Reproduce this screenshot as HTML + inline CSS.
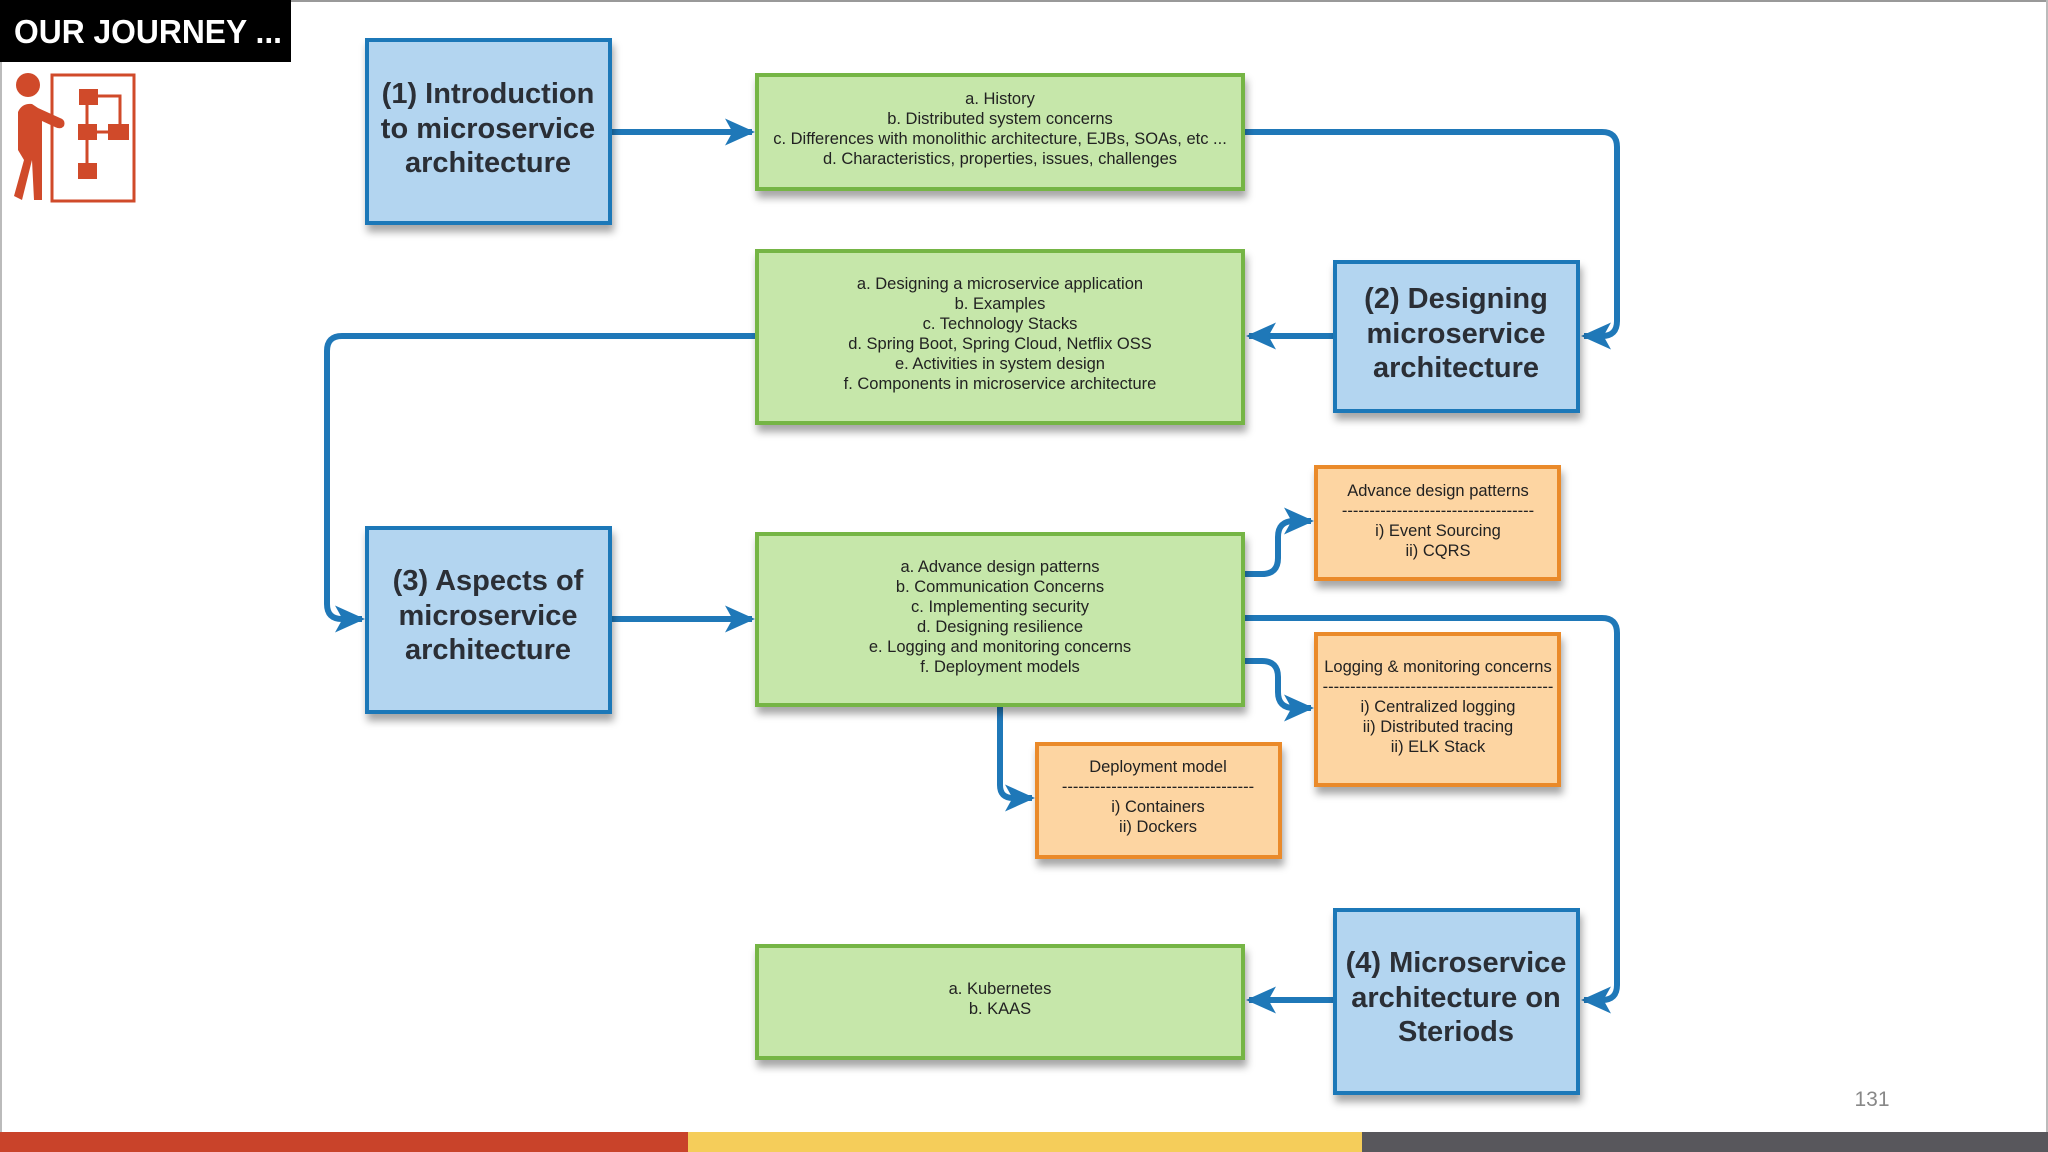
<!DOCTYPE html>
<html><head><meta charset="utf-8"><style>
html,body{margin:0;padding:0;background:#fff;}
svg{display:block;}
.b{font-family:"Liberation Sans",sans-serif;font-weight:bold;font-size:29px;fill:#2b2f36;text-anchor:middle;}
.t{font-family:"Liberation Sans",sans-serif;font-size:16.5px;fill:#222;text-anchor:middle;}
</style></head><body>
<svg width="2048" height="1152" viewBox="0 0 2048 1152" xmlns="http://www.w3.org/2000/svg">
<defs>
<filter id="sh" x="-10%" y="-10%" width="130%" height="140%"><feDropShadow dx="2" dy="7" stdDeviation="4" flood-color="#000" flood-opacity="0.35"/></filter>
<marker id="ar" viewBox="0 0 10 10" refX="9" refY="5" markerWidth="5" markerHeight="5" orient="auto" markerUnits="strokeWidth"><path d="M0,0.5 L10,5 L0,9.5 L2.5,5 z" fill="#1f78b8"/></marker>
</defs>
<rect x="0" y="0" width="2048" height="1152" fill="#fff"/>
<line x1="291" y1="1" x2="2048" y2="1" stroke="#999" stroke-width="2"/>
<line x1="1" y1="61" x2="1" y2="1132" stroke="#bbb" stroke-width="2"/>
<line x1="2047" y1="0" x2="2047" y2="1132" stroke="#bbb" stroke-width="2"/>
<rect x="0" y="0" width="291" height="62" fill="#000"/>
<text x="14" y="43" font-family="'Liberation Sans',sans-serif" font-weight="bold" font-size="33" fill="#fff" textLength="268" lengthAdjust="spacingAndGlyphs">OUR JOURNEY ...</text>
<!-- icon -->
<g fill="#d04a2a">
<rect x="52" y="75" width="82" height="126" fill="none" stroke="#d04a2a" stroke-width="3"/>
<circle cx="28" cy="85" r="12"/>
<path d="M18,112 Q22,103 32,104 L38,108 L60,118 Q66,120 64,126 Q61,130 55,127 L42,121 L42,200 L34,200 L32,160 L22,200 L14,196 L24,160 L18,150 Z"/>
<rect x="79" y="89" width="19" height="16"/><rect x="78" y="124" width="19" height="16"/><rect x="108" y="124" width="21" height="16"/><rect x="78" y="163" width="19" height="16"/>
<path d="M87,105 V163 M97,96 H120 V124 M97,132 H108" stroke="#d04a2a" stroke-width="3" fill="none"/>
</g>
<!-- connectors -->
<g stroke="#1f78b8" stroke-width="6" fill="none" stroke-linejoin="round">
<path d="M610,132 H752" marker-end="url(#ar)"/>
<path d="M1243,132 H1602 Q1617,132 1617,147 V321 Q1617,336 1602,336 H1584" marker-end="url(#ar)"/>
<path d="M1335,336 H1249" marker-end="url(#ar)"/>
<path d="M757,336 H342 Q327,336 327,351 V604 Q327,619 342,619 H362" marker-end="url(#ar)"/>
<path d="M610,619 H752" marker-end="url(#ar)"/>
<path d="M1243,574 H1262 Q1278,574 1278,558 V537 Q1278,521 1294,521 H1311" marker-end="url(#ar)"/>
<path d="M1243,618 H1602 Q1617,618 1617,633 V985 Q1617,1000 1602,1000 H1584" marker-end="url(#ar)"/>
<path d="M1243,661 H1262 Q1278,661 1278,677 V692 Q1278,708 1294,708 H1311" marker-end="url(#ar)"/>
<path d="M1000,705 V785 Q1000,798 1013,798 H1032" marker-end="url(#ar)"/>
<path d="M1335,1000 H1249" marker-end="url(#ar)"/>
</g>
<g fill="#b3d5f0" stroke="#1f78b8" stroke-width="4" filter="url(#sh)">
<rect x="367" y="40" width="243" height="183"/>
<rect x="1335" y="262" width="243" height="149"/>
<rect x="367" y="528" width="243" height="184"/>
<rect x="1335" y="910" width="243" height="183"/>
</g>
<g fill="#c6e7aa" stroke="#74b545" stroke-width="4" filter="url(#sh)">
<rect x="757" y="75" width="486" height="114"/>
<rect x="757" y="251" width="486" height="172"/>
<rect x="757" y="534" width="486" height="171"/>
<rect x="757" y="946" width="486" height="112"/>
</g>
<g fill="#fdd5a2" stroke="#ea8a2a" stroke-width="4" filter="url(#sh)">
<rect x="1316" y="467" width="243" height="112"/>
<rect x="1316" y="634" width="243" height="151"/>
<rect x="1037" y="744" width="243" height="113"/>
</g>
<text class="b"><tspan x="488" y="103">(1) Introduction</tspan><tspan x="488" y="138">to microservice</tspan><tspan x="488" y="172">architecture</tspan></text>
<text class="b"><tspan x="1456" y="308">(2) Designing</tspan><tspan x="1456" y="343">microservice</tspan><tspan x="1456" y="377">architecture</tspan></text>
<text class="b"><tspan x="488" y="590">(3) Aspects of</tspan><tspan x="488" y="625">microservice</tspan><tspan x="488" y="659">architecture</tspan></text>
<text class="b"><tspan x="1456" y="972">(4) Microservice</tspan><tspan x="1456" y="1007">architecture on</tspan><tspan x="1456" y="1041">Steriods</tspan></text>
<text class="t"><tspan x="1000" y="104">a. History</tspan><tspan x="1000" y="124">b. Distributed system concerns</tspan><tspan x="1000" y="144">c. Differences with monolithic architecture, EJBs, SOAs, etc ...</tspan><tspan x="1000" y="164">d. Characteristics, properties, issues, challenges</tspan></text>
<text class="t"><tspan x="1000" y="289">a. Designing a microservice application</tspan><tspan x="1000" y="309">b. Examples</tspan><tspan x="1000" y="329">c. Technology Stacks</tspan><tspan x="1000" y="349">d. Spring Boot, Spring Cloud, Netflix OSS</tspan><tspan x="1000" y="369">e. Activities in system design</tspan><tspan x="1000" y="389">f. Components in microservice architecture</tspan></text>
<text class="t"><tspan x="1000" y="572">a. Advance design patterns</tspan><tspan x="1000" y="592">b. Communication Concerns</tspan><tspan x="1000" y="612">c. Implementing security</tspan><tspan x="1000" y="632">d. Designing resilience</tspan><tspan x="1000" y="652">e. Logging and monitoring concerns</tspan><tspan x="1000" y="672">f. Deployment models</tspan></text>
<text class="t"><tspan x="1000" y="994">a. Kubernetes</tspan><tspan x="1000" y="1014">b. KAAS</tspan></text>
<text class="t"><tspan x="1438" y="496">Advance design patterns</tspan><tspan x="1438" y="516">-----------------------------------</tspan><tspan x="1438" y="536">i) Event Sourcing</tspan><tspan x="1438" y="556">ii) CQRS</tspan></text>
<text class="t"><tspan x="1438" y="672">Logging &amp; monitoring concerns</tspan><tspan x="1438" y="692">------------------------------------------</tspan><tspan x="1438" y="712">i) Centralized logging</tspan><tspan x="1438" y="732">ii) Distributed tracing</tspan><tspan x="1438" y="752">ii) ELK Stack</tspan></text>
<text class="t"><tspan x="1158" y="772">Deployment model</tspan><tspan x="1158" y="792">-----------------------------------</tspan><tspan x="1158" y="812">i) Containers</tspan><tspan x="1158" y="832">ii) Dockers</tspan></text>
<text x="1872" y="1106" text-anchor="middle" font-family="'Liberation Sans',sans-serif" font-size="21" fill="#888">131</text>
<rect x="0" y="1132" width="688" height="20" fill="#c9432a"/>
<rect x="688" y="1132" width="674" height="20" fill="#f5cd5a"/>
<rect x="1362" y="1132" width="686" height="20" fill="#58575c"/>
</svg>
</body></html>
